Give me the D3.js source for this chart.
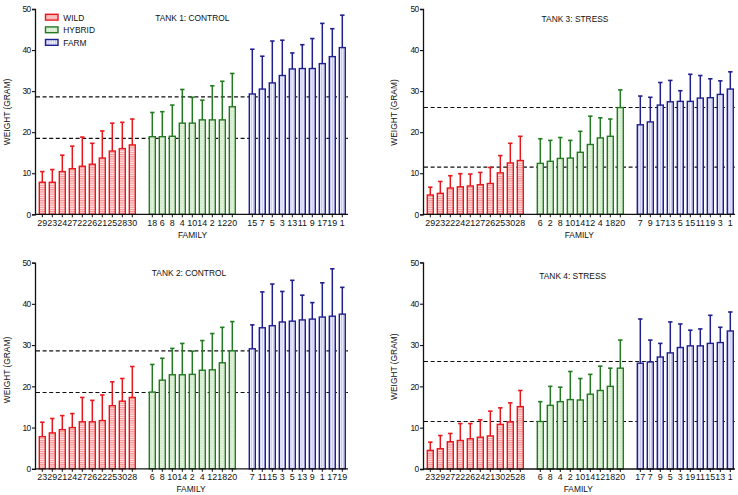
<!DOCTYPE html>
<html>
<head>
<meta charset="utf-8">
<script src="https://cdn.jsdelivr.net/npm/d3@7"></script>
<style>
  html, body { margin: 0; padding: 0; background: #fff; }
  svg { display: block; }
  text { font-family: "Liberation Sans", Arial, sans-serif; fill: #111; }
</style>
</head>
<body>
<svg id="chart" width="738" height="495"></svg>
<script>
// ---------------- DATA ----------------
const groupNames = ["WILD", "HYBRID", "FARM"];
const groupSizes = [10, 9, 10];
const yTicks = [0, 10, 20, 30, 40, 50];

// Tank 1: control
const t1Family = [29,23,24,27,22,26,21,25,28,30, 18,6,8,4,10,14,2,12,20, 15,7,5,3,13,11,9,17,19,1];
const t1Mean = [7.8,7.8,10.4,11.1,11.7,12.2,13.7,15.4,16.0,16.9, 18.9,18.9,19.0,22.2,22.2,23.0,23.0,23.0,26.2, 29.3,30.5,32.0,33.8,35.4,35.5,35.5,36.7,38.4,40.6];
const t1Sd = [2.6,3.1,4.0,5.5,7.1,5.1,6.6,6.8,6.4,6.3, 5.9,6.1,7.6,8.2,6.3,4.8,8.3,9.4,8.1, 10.9,8.0,10.2,8.6,3.9,5.8,7.3,9.8,6.8,7.9];
const t1Ref = [28.6, 18.5];

// Tank 2: control
const t2Family = [23,29,21,24,27,26,22,25,30,28, 6,8,10,14,2,4,12,18,20, 7,11,15,3,5,13,9,1,17,19];
const t2Mean = [7.8,8.7,9.5,10.0,11.4,11.4,11.7,15.3,16.4,17.3, 18.6,21.5,22.8,22.8,22.9,23.9,24.0,25.7,28.6, 29.1,34.2,34.7,35.6,35.8,36.1,36.3,36.8,37.0,37.5];
const t2Sd = [3.5,3.5,3.4,3.4,5.9,5.2,6.2,5.8,5.5,7.5, 6.7,5.3,6.4,7.6,5.6,7.2,8.8,8.6,7.1, 5.8,8.7,10.1,7.4,9.9,6.0,4.0,8.3,11.5,6.5];
const t2Ref = [28.6, 18.5];

// Tank 3: stress
const t3Family = [29,23,22,24,21,27,26,25,30,28, 6,2,8,10,14,12,4,18,20, 7,9,17,13,5,15,11,19,3,1];
const t3Mean = [4.7,5.1,6.4,6.7,6.9,7.2,7.5,10.1,12.5,13.1, 12.4,12.9,13.6,13.7,15.1,17.0,18.6,19.0,26.0, 21.8,22.5,26.6,27.4,27.5,27.5,28.3,28.4,29.2,30.5];
const t3Sd = [1.9,2.9,3.0,3.2,2.9,3.0,3.9,4.2,4.8,5.9, 6.0,5.1,5.1,4.3,5.1,6.9,4.9,4.2,4.3, 7.0,6.0,5.5,5.2,2.6,6.6,5.5,4.6,3.3,4.2];
const t3Ref = [26.0, 11.5];

// Tank 4: stress
const t4Family = [23,29,27,22,26,24,21,30,25,28, 6,8,4,2,10,14,12,18,20, 17,7,9,5,3,19,11,15,13,1];
const t4Mean = [4.5,4.9,6.6,6.9,7.3,7.7,8.0,10.8,11.4,15.1, 11.5,15.4,16.3,16.8,16.7,18.1,19.0,20.0,24.4, 25.6,25.9,27.1,28.1,29.4,29.8,29.8,30.4,30.6,33.4];
const t4Sd = [2.0,3.2,2.0,4.1,3.7,4.2,6.0,4.0,4.6,3.9, 4.8,4.6,3.5,6.8,5.2,4.8,5.9,4.4,6.8, 10.7,5.3,3.3,7.5,5.7,3.8,4.1,6.8,3.7,4.6];
const t4Ref = [26.0, 11.5];

// ---------------- STYLE / LAYOUT ----------------
const strokeColors = ["#e8171c", "#237a23", "#1f1f8f"];
const patternIds = ["pWild", "pHybrid", "pFarm"];
const FS = 8.4;

const panels = [
  {title: "TANK 1: CONTROL", fam: t1Family, mean: t1Mean, sd: t1Sd, ref: t1Ref,
   left: 35, right: 348, y0: 214.3, y50: 9, tx: 192.3, ty: 21, ylx: 10, yly: 112, xlx: 192.5, xly: 237.7, legend: true},
  {title: "TANK 3: STRESS", fam: t3Family, mean: t3Mean, sd: t3Sd, ref: t3Ref,
   left: 423, right: 735, y0: 214.3, y50: 9, tx: 575, ty: 22, ylx: 396.7, yly: 112.5, xlx: 579.3, xly: 237.7, legend: false},
  {title: "TANK 2: CONTROL", fam: t2Family, mean: t2Mean, sd: t2Sd, ref: t2Ref,
   left: 35, right: 348, y0: 468.8, y50: 262.6, tx: 189, ty: 275.7, ylx: 10, yly: 370, xlx: 191, xly: 491.7, legend: false},
  {title: "TANK 4: STRESS", fam: t4Family, mean: t4Mean, sd: t4Sd, ref: t4Ref,
   left: 423, right: 735, y0: 469, y50: 262.4, tx: 572.7, ty: 278.7, ylx: 396.7, yly: 366.7, xlx: 578.3, xly: 492.3, legend: false}
];

const svg = d3.select("#chart");
const defs = svg.append("defs");

// red: horizontal stripes
{
  const p = defs.append("pattern").attr("id", "pWild").attr("patternUnits", "userSpaceOnUse")
    .attr("width", 4).attr("height", 2.2);
  p.append("rect").attr("width", 4).attr("height", 2.2).attr("fill", "#fde3e3");
  p.append("rect").attr("y", 0).attr("width", 4).attr("height", 1.1).attr("fill", "#f49494");
}
// green: dots
{
  const p = defs.append("pattern").attr("id", "pHybrid").attr("patternUnits", "userSpaceOnUse")
    .attr("width", 2.5).attr("height", 2.5);
  p.append("rect").attr("width", 2.5).attr("height", 2.5).attr("fill", "#e3f3dc");
  p.append("rect").attr("x", 0.5).attr("y", 0.5).attr("width", 0.9).attr("height", 0.9).attr("fill", "#9fcf95");
}
// blue: vertical stripes
{
  const p = defs.append("pattern").attr("id", "pFarm").attr("patternUnits", "userSpaceOnUse")
    .attr("width", 2.2).attr("height", 4);
  p.append("rect").attr("width", 2.2).attr("height", 4).attr("fill", "#f4f4fd");
  p.append("rect").attr("x", 0).attr("width", 1.1).attr("height", 4).attr("fill", "#c4c4ee");
}

function slotIndex(i) {
  // place groups with one empty slot between them
  let g = 0, acc = 0;
  while (i >= acc + groupSizes[g]) { acc += groupSizes[g]; g++; }
  return { slot: i + g, group: g };
}

const nSlots = d3.sum(groupSizes) + groupSizes.length - 1;

panels.forEach(P => {
  const g = svg.append("g");
  const y = d3.scaleLinear().domain([0, 50]).range([P.y0, P.y50]);
  const x = d3.scaleBand().domain(d3.range(nSlots))
    .range([P.left + 2.3, P.left + 2.3 + 310])
    .paddingInner(0.4).paddingOuter(0.2);

  const bars = P.fam.map((f, i) => {
    const s = slotIndex(i);
    return { fam: f, mean: P.mean[i], sd: P.sd[i], slot: s.slot, group: s.group };
  });

  // reference dashed lines (behind bars)
  g.selectAll("line.ref").data(P.ref).enter().append("line")
    .attr("x1", P.left + 1).attr("x2", P.right)
    .attr("y1", d => y(d)).attr("y2", d => y(d))
    .attr("stroke", "#111").attr("stroke-width", 1.1).attr("stroke-dasharray", "4,2.6");

  // bars
  g.selectAll("rect.bar").data(bars).enter().append("rect")
    .attr("x", d => x(d.slot)).attr("width", x.bandwidth())
    .attr("y", d => y(d.mean)).attr("height", d => y(0) - y(d.mean))
    .attr("fill", d => `url(#${patternIds[d.group]})`)
    .attr("stroke", d => strokeColors[d.group]).attr("stroke-width", 1.4);

  // error bars (upper only)
  const cx = d => x(d.slot) + x.bandwidth() / 2;
  g.selectAll("line.err").data(bars).enter().append("line")
    .attr("x1", cx).attr("x2", cx)
    .attr("y1", d => y(d.mean)).attr("y2", d => y(d.mean + d.sd))
    .attr("stroke", d => strokeColors[d.group]).attr("stroke-width", 1.5);
  g.selectAll("line.cap").data(bars).enter().append("line")
    .attr("x1", d => cx(d) - 2.2).attr("x2", d => cx(d) + 2.2)
    .attr("y1", d => y(d.mean + d.sd)).attr("y2", d => y(d.mean + d.sd))
    .attr("stroke", d => strokeColors[d.group]).attr("stroke-width", 1.6);

  // y axis
  const yAxis = d3.axisLeft(y).tickValues(yTicks).tickSize(3).tickPadding(1.5);
  const ya = g.append("g").attr("transform", `translate(${P.left},0)`).call(yAxis);
  ya.select(".domain").attr("stroke", "#111").attr("stroke-width", 1.3);
  ya.selectAll(".tick line").attr("stroke", "#111").attr("stroke-width", 1.1);
  ya.selectAll(".tick text").attr("font-size", FS).attr("letter-spacing", "-0.7px")
    .attr("font-family", "Liberation Sans, Arial, sans-serif").attr("fill", "#111");

  // x axis
  const xAxis = d3.axisBottom(x).tickSize(3).tickPadding(2)
    .tickValues(bars.map(b => b.slot))
    .tickFormat(s => bars.find(b => b.slot === s).fam);
  const xa = g.append("g").attr("transform", `translate(0,${P.y0})`).call(xAxis);
  xa.select(".domain").remove();
  xa.append("line").attr("x1", P.left).attr("x2", P.right).attr("y1", 0).attr("y2", 0)
    .attr("stroke", "#111").attr("stroke-width", 1.3);
  xa.selectAll(".tick line").attr("stroke", "#111").attr("stroke-width", 1);
  xa.selectAll(".tick text").attr("font-size", 8.9)
    .attr("font-family", "Liberation Sans, Arial, sans-serif").attr("fill", "#111");

  // title
  g.append("text").attr("x", P.tx).attr("y", P.ty).attr("text-anchor", "middle")
    .attr("font-size", FS).text(P.title);
  // axis labels
  g.append("text").attr("x", P.xlx).attr("y", P.xly).attr("text-anchor", "middle")
    .attr("font-size", FS).text("FAMILY");
  g.append("text").attr("transform", `translate(${P.ylx},${P.yly}) rotate(-90)`)
    .attr("text-anchor", "middle").attr("font-size", FS).text("WEIGHT (GRAM)");

  // legend
  if (P.legend) {
    const lg = g.append("g");
    groupNames.forEach((name, i) => {
      const yy = 14.3 + i * 12.6;
      lg.append("rect").attr("x", 45.5).attr("y", yy).attr("width", 12.5).attr("height", 5.8)
        .attr("fill", `url(#${patternIds[i]})`).attr("stroke", strokeColors[i]).attr("stroke-width", 1.4);
      lg.append("text").attr("x", 63.3).attr("y", yy + 6.2).attr("font-size", FS).text(name);
    });
  }
});
</script>
</body>
</html>
